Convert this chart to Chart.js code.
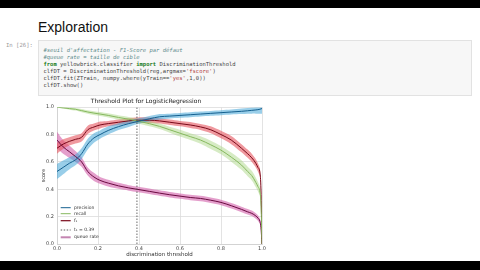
<!DOCTYPE html>
<html><head><meta charset="utf-8">
<script src="https://cdn.jsdelivr.net/npm/chart.js@4.4.1/dist/chart.umd.min.js"></script>
<style>
html,body{margin:0;padding:0;width:480px;height:270px;overflow:hidden;background:#fff}
#topbar{position:absolute;left:0;top:0;width:480px;height:8px;background:#000}
#botbar{position:absolute;left:0;top:261px;width:480px;height:9px;background:#000}
#title{position:absolute;left:38px;top:19px;font:14px/16px "Liberation Sans",Arial,sans-serif;color:#111}
#prompt{position:absolute;left:6px;top:41.6px;font:5.6px/6.9px "DejaVu Sans Mono",monospace;color:#999}
#code{position:absolute;left:38px;top:40px;width:434px;height:56px;background:#f7f7f7;border:1px solid #e2e2e2;box-sizing:border-box}
#code pre{margin:0;position:absolute;left:4.5px;top:6.3px;font:5.5px/6.9px "DejaVu Sans Mono",monospace;color:#444}
.c{color:#5a8a8a;font-style:italic}.k{color:#1a7a1a;font-weight:bold}.s{color:#b04040}
#wrap{position:absolute;left:30px;top:96px;width:240px;height:164px}
</style></head><body>
<div id="topbar"></div><div id="botbar"></div>
<div id="title">Exploration</div>
<div id="prompt">In [26]:</div>
<div id="code"><pre><span class="c">#seuil d'affectation - F1-Score par défaut</span>
<span class="c">#queue rate = taille de cible</span>
<span class="k">from</span> yellowbrick.classifier <span class="k">import</span> DiscriminationThreshold
clfDT = DiscriminationThreshold(reg,argmax=<span class="s">'fscore'</span>)
clfDT.fit(ZTrain, numpy.where(yTrain==<span class="s">'yes'</span>,1,0))
clfDT.show()</pre></div>
<div id="wrap"><canvas id="c"></canvas></div>
<script>
const chartTitle = 'Threshold Plot for LogisticRegression';
const xTitle = 'discrimination threshold';
const yTitle = 'score';
const thresholds = [0,0.03,0.06,0.09,0.12,0.15,0.18,0.21,0.25,0.3,0.35,0.39,0.45,0.5,0.55,0.6,0.65,0.7,0.75,0.8,0.85,0.9,0.93,0.95,0.97,0.98,0.99,0.995,1.0];
const precision     = [0.53,0.56,0.59,0.615,0.66,0.73,0.775,0.80,0.83,0.858,0.88,0.895,0.915,0.93,0.935,0.94,0.945,0.95,0.955,0.96,0.965,0.97,0.974,0.977,0.98,0.982,0.985,0.988,0.99];
const precisionHigh = [0.585,0.61,0.635,0.655,0.70,0.77,0.81,0.83,0.86,0.883,0.905,0.915,0.935,0.95,0.953,0.958,0.963,0.968,0.973,0.978,0.983,0.99,0.994,0.997,1.0,1.0,1.0,1.0,1.0];
const precisionLow  = [0.475,0.51,0.545,0.575,0.62,0.69,0.74,0.77,0.80,0.833,0.855,0.875,0.895,0.91,0.917,0.922,0.927,0.932,0.937,0.942,0.947,0.95,0.952,0.953,0.953,0.952,0.952,0.952,0.952];
const recall     = [1.0,0.995,0.99,0.985,0.975,0.965,0.957,0.95,0.94,0.925,0.912,0.90,0.88,0.86,0.835,0.81,0.785,0.76,0.725,0.686,0.635,0.577,0.53,0.50,0.45,0.42,0.38,0.30,0.0];
const recallHigh = [1.0,1.0,0.998,0.995,0.987,0.977,0.971,0.965,0.955,0.941,0.929,0.918,0.90,0.88,0.857,0.835,0.81,0.787,0.755,0.716,0.668,0.612,0.565,0.535,0.485,0.455,0.415,0.33,0.0];
const recallLow  = [1.0,0.99,0.982,0.975,0.963,0.953,0.943,0.935,0.925,0.909,0.895,0.882,0.86,0.84,0.813,0.785,0.76,0.733,0.695,0.656,0.602,0.542,0.495,0.465,0.415,0.385,0.345,0.27,0.0];
const fscore     = [0.70,0.73,0.75,0.765,0.78,0.835,0.855,0.87,0.88,0.89,0.90,0.905,0.905,0.90,0.89,0.88,0.87,0.856,0.835,0.80,0.76,0.70,0.66,0.63,0.59,0.56,0.52,0.40,0.0];
const fscoreHigh = [0.74,0.765,0.78,0.795,0.81,0.865,0.88,0.895,0.90,0.91,0.92,0.925,0.925,0.92,0.91,0.90,0.892,0.878,0.86,0.827,0.79,0.73,0.69,0.66,0.62,0.59,0.55,0.43,0.0];
const fscoreLow  = [0.66,0.695,0.72,0.735,0.75,0.805,0.83,0.845,0.86,0.87,0.88,0.885,0.885,0.88,0.87,0.86,0.848,0.834,0.81,0.773,0.73,0.67,0.63,0.60,0.56,0.53,0.49,0.37,0.0];
const queueRate     = [0.76,0.71,0.675,0.64,0.60,0.53,0.49,0.465,0.445,0.425,0.41,0.40,0.385,0.372,0.36,0.35,0.34,0.333,0.32,0.304,0.28,0.253,0.235,0.224,0.205,0.19,0.165,0.12,0.0];
const queueRateHigh = [0.82,0.76,0.72,0.68,0.635,0.56,0.52,0.49,0.47,0.447,0.43,0.42,0.405,0.392,0.38,0.37,0.36,0.353,0.34,0.324,0.30,0.273,0.255,0.244,0.225,0.21,0.185,0.14,0.0];
const queueRateLow  = [0.70,0.66,0.63,0.60,0.565,0.50,0.46,0.44,0.42,0.403,0.39,0.38,0.365,0.352,0.34,0.33,0.32,0.313,0.30,0.284,0.26,0.233,0.215,0.204,0.185,0.17,0.145,0.10,0.0];
const bestThreshold = 0.39;
const tickValues = [0.0,0.2,0.4,0.6,0.8,1.0];
const seriesLabels = ['precision','recall','f\u2081','t\u2081 = 0.39','queue rate'];

const pts = arr => thresholds.map((t,i)=>({x:t,y:arr[i]}));
const styles = [
  {line:'#15608f', band:'rgba(70,165,215,0.55)'},
  {line:'#86b85e', band:'rgba(165,210,125,0.45)'},
  {line:'#7a0a1a', band:'rgba(230,85,95,0.6)'},
  {line:'#6a0a40', band:'rgba(210,95,170,0.6)'}
];
const series = [
  [precision, precisionHigh, precisionLow],
  [recall, recallHigh, recallLow],
  [fscore, fscoreHigh, fscoreLow],
  [queueRate, queueRateHigh, queueRateLow]
];
const datasets = [];
series.forEach((s,i)=>{
  datasets.push({data:pts(s[1]), fill:'+1', backgroundColor:styles[i].band, borderWidth:0, pointRadius:0, order:10, tension:0.3});
  datasets.push({data:pts(s[2]), fill:false, borderWidth:0, pointRadius:0, order:10, tension:0.3});
});
series.forEach((s,i)=>{
  datasets.push({label:seriesLabels[i===3?4:i], data:pts(s[0]), borderColor:styles[i].line, borderWidth:1, pointRadius:0, fill:false, order:1, cubicInterpolationMode:'monotone'});
});
datasets.push({data:[{x:bestThreshold,y:0},{x:bestThreshold,y:1}], borderColor:'#444', borderWidth:0.8, borderDash:[1.5,1.5], pointRadius:0, fill:false, order:0});

const legendPlugin = {
  id:'innerLegend',
  afterDraw(chart){
    const {ctx, chartArea:a} = chart;
    const rows = [
      {lab:seriesLabels[0], col:styles[0].line, w:1, dy:36.3},
      {lab:seriesLabels[1], col:styles[1].line, w:1, dy:30.3},
      {lab:seriesLabels[2], col:styles[2].line, w:1.2, dy:23.3},
      {lab:seriesLabels[3], col:'#333', w:0.8, dy:14, dash:true},
      {lab:seriesLabels[4], col:'rgba(190,120,170,0.9)', w:2, dy:6.7}
    ];
    ctx.save();
    ctx.font = '4.5px "DejaVu Sans"';
    ctx.textBaseline = 'middle';
    rows.forEach(r=>{
      const y = a.bottom - r.dy;
      ctx.beginPath();
      ctx.setLineDash(r.dash?[1.5,1.5]:[]);
      ctx.strokeStyle = r.col; ctx.lineWidth = r.w;
      ctx.moveTo(a.left+3.7, y); ctx.lineTo(a.left+13.7, y); ctx.stroke();
      ctx.fillStyle = '#333';
      ctx.fillText(r.lab, a.left+17, y);
    });
    ctx.restore();
  }
};

new Chart(document.getElementById('c'), {
  type:'line',
  data:{datasets},
  plugins:[legendPlugin],
  options:{
    responsive:true, maintainAspectRatio:false, animation:false, devicePixelRatio:1,
    layout:{padding:{left:0,right:8,top:0,bottom:0}},
    plugins:{
      legend:{display:false}, tooltip:{enabled:false},
      title:{display:true, text:chartTitle, color:'#222', font:{family:'DejaVu Sans', size:6, lineHeight:1.2, weight:'normal'}, padding:{top:2,bottom:2}}
    },
    scales:{
      x:{type:'linear', min:0, max:1,
        afterBuildTicks:s=>{s.ticks = tickValues.map(v=>({value:v}));},
        afterFit:s=>{s.height=16;},
        ticks:{callback:v=>v.toFixed(1), font:{family:'DejaVu Sans',size:5}, color:'#444', padding:1.5, maxRotation:0},
        grid:{color:'#dcdcdc', lineWidth:0.8, drawTicks:false},
        border:{color:'#cfcfcf', width:0.8},
        title:{display:true, text:xTitle, font:{family:'DejaVu Sans',size:5.5}, color:'#333', padding:{top:0,bottom:2}}
      },
      y:{min:0, max:1,
        afterBuildTicks:s=>{s.ticks = tickValues.map(v=>({value:v}));},
        afterFit:s=>{s.width=27;},
        ticks:{callback:v=>v.toFixed(1), font:{family:'DejaVu Sans',size:5}, color:'#444', padding:3},
        grid:{color:'#dcdcdc', lineWidth:0.8, drawTicks:false},
        border:{color:'#cfcfcf', width:0.8},
        title:{display:true, text:yTitle, font:{family:'DejaVu Sans',size:5}, color:'#333', padding:{top:11,bottom:0}}
      }
    }
  }
});
</script>
</body></html>
